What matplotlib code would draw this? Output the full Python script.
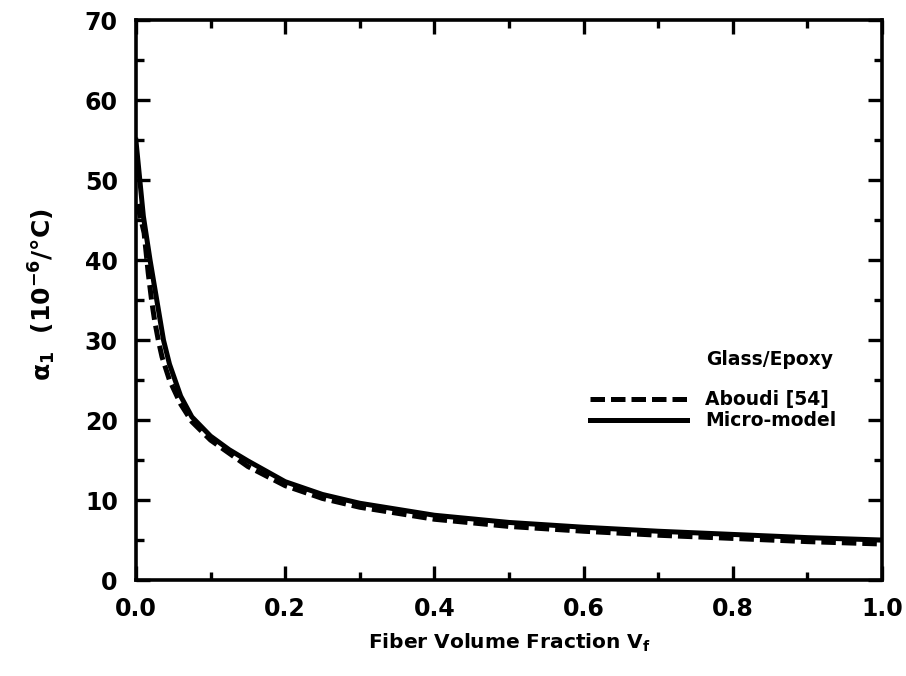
import numpy as np
import matplotlib
matplotlib.use("Agg")
from matplotlib import pyplot as plt
from matplotlib.ticker import MultipleLocator

# Micro-model (solid)
vf_micro = [0.0, 0.01, 0.019, 0.028, 0.037, 0.045, 0.06, 0.075, 0.1, 0.125, 0.15,
            0.2, 0.25, 0.3, 0.4, 0.5, 0.6, 0.7, 0.8, 0.9, 1.0]
a1_micro = [55.0, 45.5, 40.0, 35.0, 30.0, 27.0, 23.0, 20.4, 18.0, 16.3, 14.9,
            12.3, 10.7, 9.6, 8.1, 7.2, 6.6, 6.1, 5.7, 5.3, 5.0]

# Aboudi [54] (dashed)
vf_aboudi = [0.002, 0.011, 0.0165, 0.021, 0.025, 0.03, 0.035, 0.045, 0.06, 0.075,
             0.1, 0.15, 0.2, 0.25, 0.3, 0.4, 0.5, 0.6, 0.7, 0.8, 0.9, 1.0]
a1_aboudi = [47.0, 43.4, 38.4, 35.0, 32.5, 30.0, 27.9, 25.0, 22.0, 19.8,
             17.5, 14.2, 11.8, 10.2, 9.1, 7.6, 6.7, 6.1, 5.6, 5.2, 4.8, 4.5]

xticks = [0.0, 0.2, 0.4, 0.6, 0.8, 1.0]
yticks = [0, 10, 20, 30, 40, 50, 60, 70]

plt.rcParams['font.family'] = ['DejaVu Sans']
plt.rcParams['font.weight'] = 'bold'
plt.rcParams['mathtext.default'] = 'bf'

fig = plt.figure(figsize=(9.06, 6.76), dpi=100)
ax = fig.add_axes([0.150, 0.142, 0.8235, 0.828])

ax.plot(vf_aboudi, a1_aboudi, color='black', lw=3.6, ls=(0, (2.9, 1.2)),
        dash_capstyle='butt', label='Aboudi [54]')
ax.plot(vf_micro, a1_micro, color='black', lw=3.6, label='Micro-model')

ax.set_xlim(0.0, 1.0)
ax.set_ylim(0, 70)
ax.set_xticks(xticks)
ax.set_yticks(yticks)
ax.set_xticklabels(['%.1f' % v for v in xticks])
ax.xaxis.set_minor_locator(MultipleLocator(0.1))
ax.yaxis.set_minor_locator(MultipleLocator(5))

# ticks inward on all sides
ax.tick_params(which='both', direction='in', top=True, right=True, width=2.4)
ax.tick_params(which='major', length=10, labelsize=17)
ax.tick_params(which='minor', length=6)
ax.tick_params(axis='x', which='major', pad=12)
ax.tick_params(axis='y', which='major', pad=13)
for s in ax.spines.values():
    s.set_linewidth(2.6)

ax.set_xlabel(r'Fiber Volume Fraction V$_f$', fontsize=14.5, fontweight='bold')
ax.xaxis.label.set_va('center')
ax.xaxis.set_label_coords(0.5, -0.113)
ax.set_ylabel(r'$\alpha_1$  (10$^{-6}$/°C)', fontsize=18, fontweight='bold')
ax.yaxis.label.set_va('center')
ax.yaxis.set_label_coords(-0.126, 0.51)

# legend
ax.text(0.764, 0.394, 'Glass/Epoxy', transform=ax.transAxes, fontsize=13.5,
        fontweight='bold', ha='left', va='center')
leg = ax.legend(loc='center left', bbox_to_anchor=(0.6086, 0.303), frameon=False,
                fontsize=13.5, handlelength=5.2, handletextpad=0.95,
                labelspacing=0.1, borderpad=0, borderaxespad=0)

plt.savefig('out.png', dpi=100)
